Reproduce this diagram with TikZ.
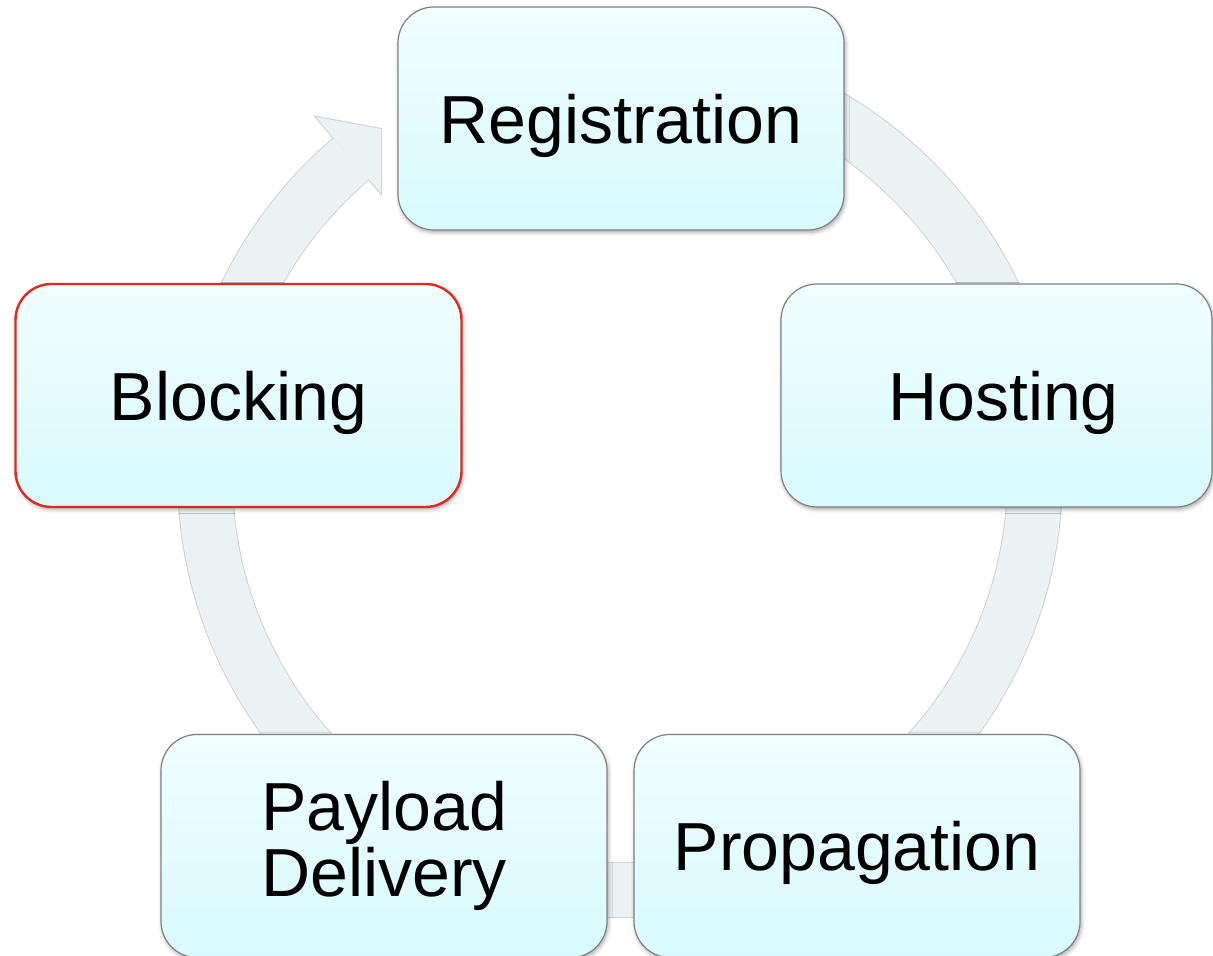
\documentclass[tikz,border=0pt]{standalone}
\usepackage{fontspec}
\setmainfont{Liberation Sans}
\usepackage{tikz}
\usetikzlibrary{shapes,positioning,shadows.blur}

\definecolor{ringfill}{RGB}{234,242,243}
\definecolor{boxtop}{RGB}{240,254,255}
\definecolor{boxbot}{RGB}{216,250,254}
\definecolor{boxline}{RGB}{128,128,128}
\definecolor{alertline}{RGB}{224,40,30}

\begin{document}
\begin{tikzpicture}[x=0.5pt,y=0.5pt]
				\tikzstyle{Step}	= [rectangle, rounded corners=18pt, draw=boxline, line width=0.6pt, top color=boxtop, bottom color=boxbot, minimum width=223pt, minimum height=111.5pt, inner sep=0pt, align=center, font=\fontsize{34}{33.3}\selectfont, blur shadow={shadow xshift=0.6pt, shadow yshift=-1.2pt, shadow blur radius=2pt, shadow opacity=35}]
				\tikzstyle{OneLine}	= [text depth=0pt]
				\tikzstyle{Alert}	= [draw=alertline, line width=1.2pt]
				\tikzstyle{Ring}	= [ringfill, line width=27pt]
				\tikzstyle{RingEdge}	= [black!18, line width=28pt]

				\useasboundingbox (0,0) rectangle (1213,956);
				\clip (0,0) rectangle (1213,956);

				% cycle arrow behind the steps
				\coordinate (hub) at (620,481);
				\draw[RingEdge] ([shift={(85:415)}]hub) arc[start angle=85, end angle=-229.65, radius=415];
				\draw[black!18, line width=1pt] ([shift={(130.35:442)}]hub) -- ([shift={(130.35:470)}]hub) -- (381,827) -- (381,762.4) -- ([shift={(130.35:388)}]hub) -- cycle;
				\draw[Ring] ([shift={(85:415)}]hub) arc[start angle=85, end angle=-229.65, radius=415];
				\fill[ringfill] ([shift={(130.35:442)}]hub) -- ([shift={(130.35:470)}]hub) -- (381,827) -- (381,762.4) -- ([shift={(130.35:388)}]hub) -- cycle;

				\node (reg) at (621,837.5) [Step][OneLine] {Registration};
				\node (host) at (996.5,560.5) [Step][OneLine][minimum width=215.5pt] {\hspace*{7pt}Hosting};
				\node (prop) at (857,110) [Step][OneLine] {Propagation};
				\node (pay) at (384,110) [Step] {Payload\\Delivery};
				\node (blk) at (238.5,560.5) [Step][OneLine][Alert] {Blocking};

			\end{tikzpicture}
\end{document}
